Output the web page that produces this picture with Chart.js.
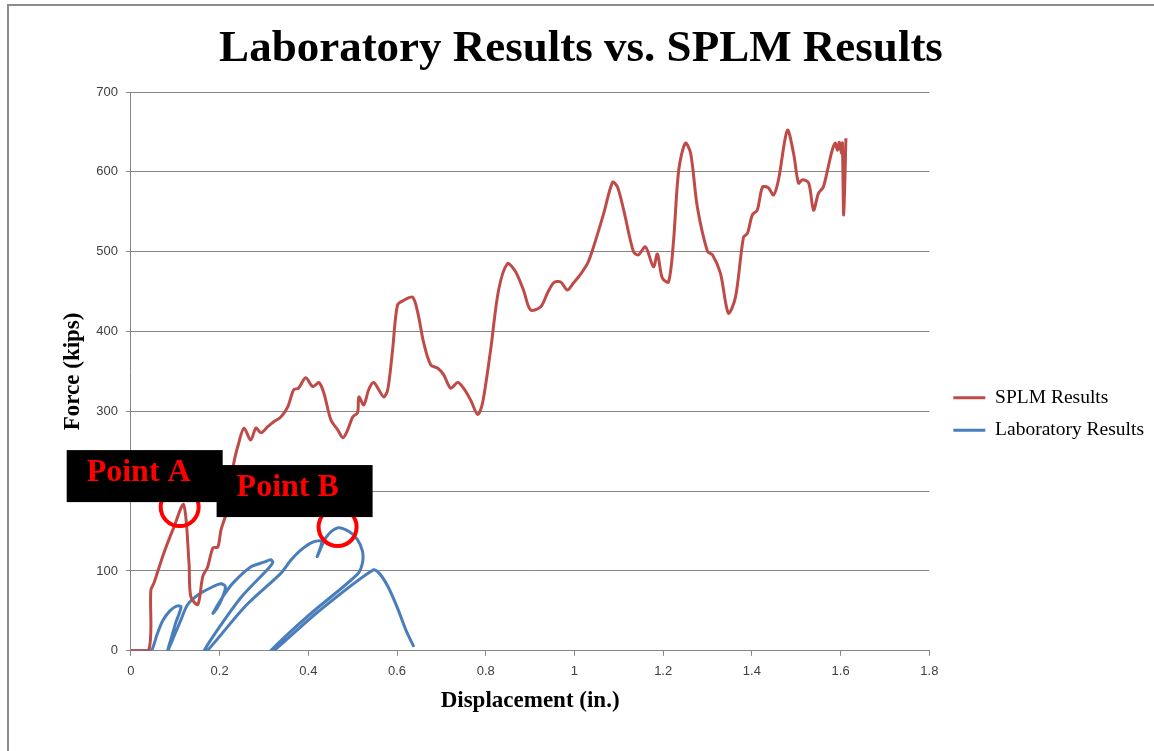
<!DOCTYPE html>
<html>
<head>
<meta charset="utf-8">
<script src="https://cdn.jsdelivr.net/npm/chart.js@4.4.0/dist/chart.umd.min.js"></script>
<style>
  html, body { margin: 0; background: #fff; }
  #marco { position: absolute; left: 7px; top: 4px; right: 0; bottom: 0; border-top: 2px solid #8c8c8c; border-left: 2px solid #8c8c8c; }
  #grafica { position: absolute; left: 8px; top: 0; }
</style>
</head>
<body>
<div id="marco"></div>
<canvas id="grafica" width="1146" height="751"></canvas>
<script>
// Curva del modelo SPLM: desplazamiento (in.) y fuerza (kips)
const splmDesp = [0, 0.04, 0.045, 0.052, 0.074, 0.097, 0.119, 0.131, 0.135, 0.151, 0.162, 0.173, 0.185, 0.196, 0.203, 0.219,
  0.232, 0.243, 0.255, 0.270, 0.282, 0.293, 0.309, 0.322, 0.338, 0.354, 0.367, 0.378, 0.394, 0.410, 0.424, 0.435,
  0.451, 0.466, 0.478, 0.489, 0.500, 0.511, 0.514, 0.525, 0.536, 0.547, 0.559, 0.570, 0.579, 0.590, 0.601, 0.615,
  0.635, 0.647, 0.660, 0.676, 0.692, 0.705, 0.721, 0.737, 0.750, 0.766, 0.782, 0.793, 0.811, 0.829, 0.849, 0.866,
  0.885, 0.901, 0.924, 0.939, 0.953, 0.969, 0.984, 0.998, 1.014, 1.030, 1.043, 1.066, 1.086, 1.097, 1.111, 1.133,
  1.144, 1.160, 1.178, 1.187, 1.198, 1.212, 1.223, 1.235, 1.250, 1.262, 1.277, 1.300, 1.311, 1.329, 1.347, 1.363,
  1.381, 1.390, 1.401, 1.412, 1.424, 1.437, 1.449, 1.460, 1.480, 1.494, 1.505, 1.514, 1.528, 1.539, 1.550, 1.561,
  1.572, 1.581, 1.588, 1.593, 1.597, 1.602, 1.604, 1.607, 1.612]
const splmFuerza = [0, 0, 76, 85, 122, 155, 183, 110, 68, 58, 93, 105, 129, 130, 151, 180,
  235, 260, 279, 264, 279, 273, 281, 287, 293, 306, 327, 329, 342, 331, 336, 323,
  289, 277, 267, 277, 293, 298, 318, 308, 327, 336, 327, 318, 327, 377, 433, 439,
  443, 423, 386, 358, 354, 346, 329, 336, 329, 314, 296, 311, 377, 452, 485, 476,
  452, 427, 431, 448, 461, 462, 452, 461, 472, 486, 506, 548, 587, 581, 552, 500,
  496, 506, 481, 497, 467, 462, 511, 602, 636, 623, 556, 500, 496, 473, 423, 443,
  518, 523, 546, 552, 581, 580, 571, 590, 652, 623, 586, 590, 586, 552, 573, 581,
  606, 627, 636, 627, 637, 623, 636, 546, 642]

// Ensayo de laboratorio (ciclos de carga y descarga)
const labDesp = [0, 0.045, 0.052, 0.06, 0.072, 0.088, 0.103, 0.113, 0.101, 0.09, 0.083,
  0.097, 0.113, 0.128, 0.151, 0.18, 0.203, 0.213, 0.205, 0.195, 0.185,
  0.21, 0.232, 0.27, 0.30, 0.315, 0.32, 0.31, 0.25, 0.2, 0.165,
  0.172, 0.26, 0.338, 0.36, 0.383, 0.41, 0.43, 0.42, 0.44, 0.466, 0.49, 0.51, 0.522, 0.522, 0.511, 0.40, 0.315,
  0.322, 0.42, 0.545, 0.56, 0.58, 0.60, 0.62, 0.638]
const labFuerza = [0, 0, 8, 22, 38, 50, 56, 55, 35, 14, 0,
  18, 39, 58, 70, 79, 84, 80, 65, 54, 47,
  70, 86, 105, 111, 114, 111, 103, 68, 30, 0,
  0, 57, 97, 113, 126, 136, 137, 118, 142, 154, 150, 140, 125, 110, 96, 44, 0,
  0, 48, 101, 97, 80, 55, 26, 5]

// Puntos marcados con circulo y etiqueta
const puntos = [
  { texto: 'Point A', x: 0.110, y: 180 },
  { texto: 'Point B', x: 0.466, y: 155 }
]

const unir = (xs, ys) => xs.map((x, i) => ({ x: x, y: ys[i] }))

const cajas = [{ dx: 113, dy: 57 }, { dx: 121, dy: 62 }]

const anotaciones = {
  id: 'anotaciones',
  afterDatasetsDraw(chart) {
    const { ctx, scales } = chart
    const centros = puntos.map(p => ({
      texto: p.texto,
      cx: scales.x.getPixelForValue(p.x),
      cy: scales.y.getPixelForValue(p.y)
    }))
    ctx.save()
    ctx.strokeStyle = '#ff0000'
    ctx.lineWidth = 4
    centros.forEach(c => {
      ctx.beginPath()
      ctx.arc(c.cx, c.cy, 19, 0, Math.PI * 2)
      ctx.stroke()
    })
    ctx.font = 'bold 32px "Liberation Serif", "Times New Roman", serif'
    ctx.textBaseline = 'alphabetic'
    ctx.textAlign = 'left'
    centros.forEach((c, i) => {
      const izq = c.cx - cajas[i].dx
      const arr = c.cy - cajas[i].dy
      ctx.fillStyle = '#000'
      ctx.fillRect(izq, arr, 156, 52)
      ctx.fillStyle = '#ff0000'
      ctx.fillText(c.texto, izq + 20, arr + 31)
    })
    ctx.restore()
  }
}

const serif = '"Liberation Serif", "Times New Roman", serif'
const sans = '"Liberation Sans", Arial, sans-serif'
const gris = '#868686'

new Chart(document.getElementById('grafica').getContext('2d'), {
  type: 'scatter',
  data: {
    datasets: [{
      label: 'SPLM Results',
      data: unir(splmDesp, splmFuerza),
      showLine: true,
      borderColor: '#be4b48',
      backgroundColor: '#be4b48',
      borderWidth: 3,
      pointRadius: 0,
      tension: 0.3,
      fill: false
    }, {
      label: 'Laboratory Results',
      data: unir(labDesp, labFuerza),
      showLine: true,
      borderColor: '#4a7ebb',
      backgroundColor: '#4a7ebb',
      borderWidth: 3,
      pointRadius: 0,
      tension: 0.3,
      fill: false
    }]
  },
  options: {
    responsive: false,
    animation: false,
    layout: { padding: { top: 12, left: 0, right: 0, bottom: 36 } },
    plugins: {
      title: {
        display: true,
        text: 'Laboratory Results vs. SPLM Results',
        color: '#000',
        font: { family: serif, size: 45, weight: 'bold' },
        padding: { top: 10, bottom: 16 }
      },
      legend: {
        position: 'right',
        maxWidth: 240,
        title: { display: true, text: ' ', font: { size: 1, lineHeight: 1 }, padding: { top: 0, bottom: 100 } },
        labels: {
          usePointStyle: true,
          pointStyle: 'line',
          pointStyleWidth: 32,
          padding: 13,
          color: '#000',
          font: { family: serif, size: 19.5 }
        }
      },
      tooltip: { enabled: false }
    },
    scales: {
      x: {
        type: 'linear',
        min: 0,
        max: 1.8,
        ticks: {
          stepSize: 0.2,
          padding: 8,
          color: '#404040',
          font: { family: sans, size: 13 },
          callback: v => String(Math.round(v * 10) / 10)
        },
        grid: { drawOnChartArea: false, tickLength: 5, color: gris },
        border: { color: gris, width: 1 },
        title: {
          display: true,
          text: 'Displacement (in.)',
          color: '#000',
          font: { family: serif, size: 23, weight: 'bold' },
          padding: { top: 0, bottom: 0 }
        }
      },
      y: {
        min: 0,
        max: 700,
        ticks: { stepSize: 100, padding: 8, color: '#404040', font: { family: sans, size: 13 } },
        grid: { tickLength: 5, color: gris },
        border: { color: gris, width: 1 },
        title: {
          display: true,
          text: 'Force (kips)',
          color: '#000',
          font: { family: serif, size: 23, weight: 'bold' },
          padding: { top: 51, bottom: 1.6 }
        }
      },
      // espacio entre el area de trazado y la leyenda
      y2: {
        position: 'right',
        display: true,
        grid: { display: false },
        border: { display: false },
        ticks: { display: false },
        afterFit(scale) { scale.width = 11 }
      }
    }
  },
  plugins: [anotaciones]
})
</script>
</body>
</html>
